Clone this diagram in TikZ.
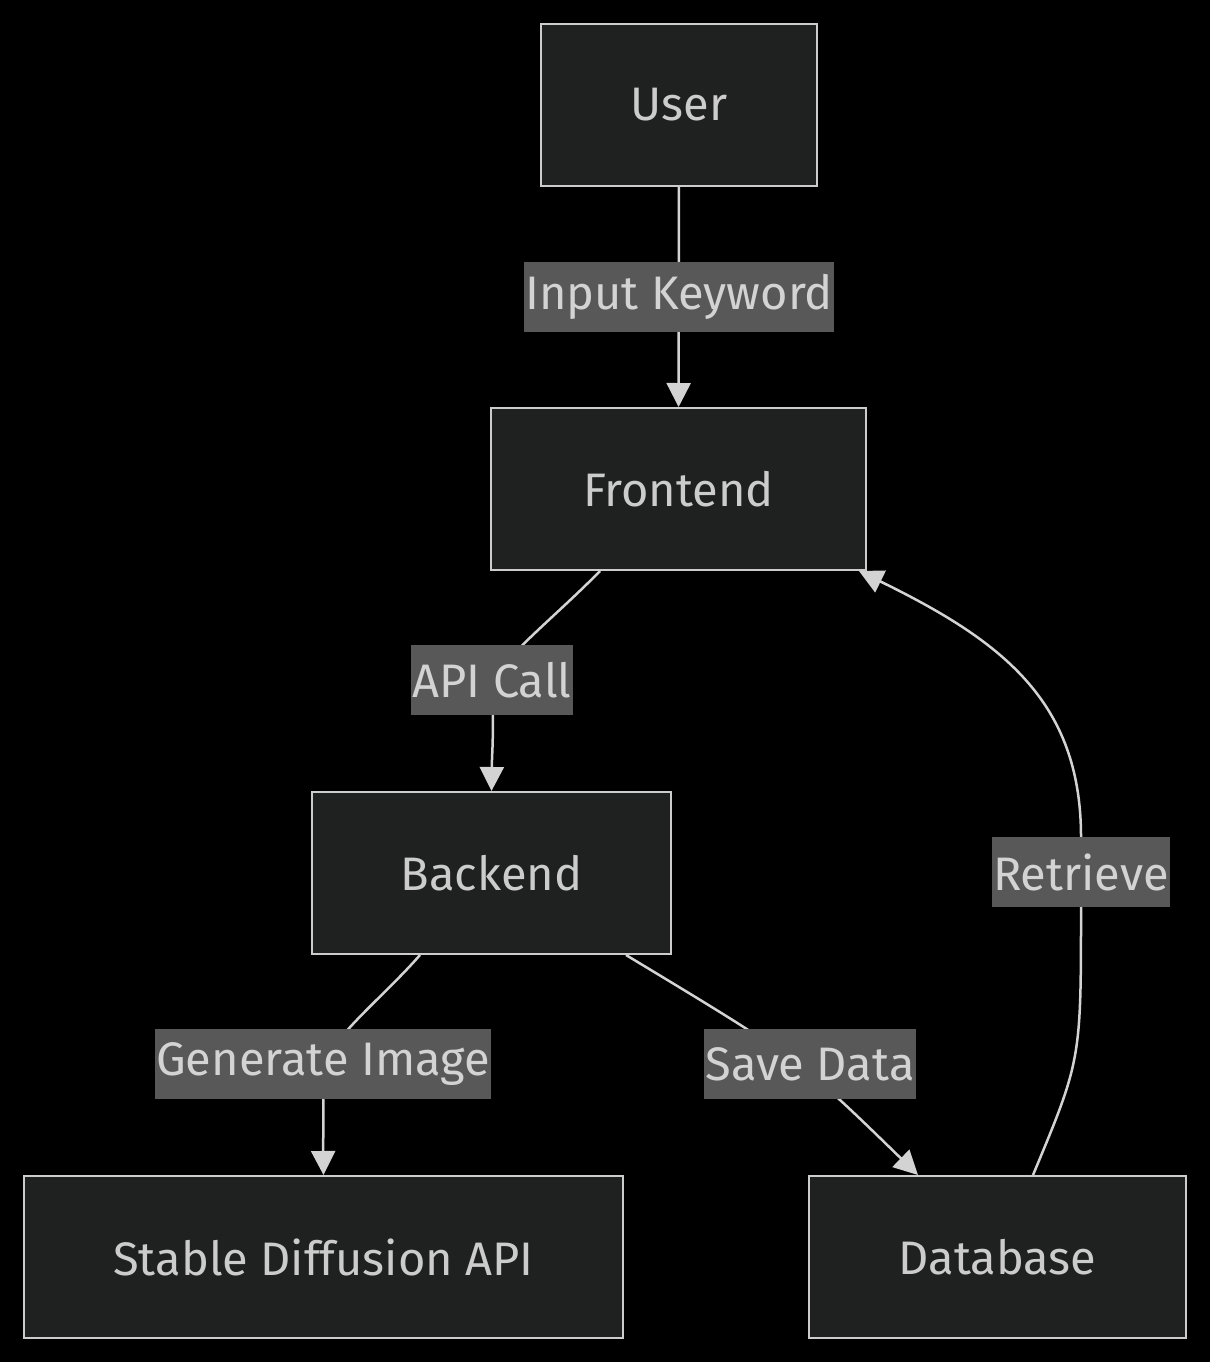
\documentclass[tikz,border=0pt]{standalone}
\usepackage{fontspec}
\setmainfont{Fira Sans}
\usetikzlibrary{arrows.meta,backgrounds}

\definecolor{nodefill}{HTML}{1F2020}
\definecolor{nodeline}{HTML}{CCCCCC}
\definecolor{lblfill}{HTML}{585858}
\definecolor{edgecol}{HTML}{D3D3D3}

\tikzset{
  box/.style={draw=nodeline, line width=2pt, fill=nodefill, text=nodeline,
    minimum height=162pt, inner sep=0pt},
  lbl/.style={fill=lblfill, text=edgecol, minimum height=70pt, inner xsep=1pt, inner ysep=0pt},
  edge/.style={draw=edgecol, line width=2.5pt, -{Triangle[length=24pt,width=24pt]}}
}

\begin{document}
\begin{tikzpicture}[x=1pt, y=-1pt, font=\fontsize{47}{55}\selectfont]

    \useasboundingbox (0, 0) rectangle (1210, 1362);

    \node[box, minimum width=276pt] (user) at (679, 105) {User};
    \node[box, minimum width=375pt] (fe) at (678.5, 489) {Frontend};
    \node[box, minimum width=359pt] (be) at (491.5, 873) {Backend};
    \node[box, minimum width=599pt] (sd) at (323.5, 1257) {Stable Diffusion API};
    \node[box, minimum width=377pt] (db) at (997.5, 1257) {Database};

    \node[lbl] (inkey) at (679, 297) {Input Keyword};
    \node[lbl] (apicall) at (492, 680) {API Call};
    \node[lbl] (genimg) at (323, 1064) {Generate Image};
    \node[lbl] (savedata) at (810, 1064) {Save Data};
    \node[lbl] (retr) at (1081, 872) {Retrieve};

    \begin{scope}[on background layer]
        \fill[black] (0, 0) rectangle (1210, 1362);

        \draw[edge] (user) -- (fe);
        \draw[edge] ([xshift=-78.5pt]fe.south) .. controls (560, 612) and (512, 650) .. (apicall.center)
            .. controls (494, 740) and (492, 750) .. (be.north);
        \draw[edge] ([xshift=-71.5pt]be.south) .. controls (385, 995) and (340, 1030) .. (genimg.center)
            .. controls (324, 1125) and (323, 1135) .. (sd.north);
        \draw[edge] ([xshift=134.5pt]be.south) .. controls (800, 1060) .. ([xshift=-79.5pt]db.north);
        \draw[edge] ([xshift=35.5pt]db.north) .. controls (1081, 1060) .. (retr.south) -- (retr.north)
            .. controls (1081, 700) and (1000, 640) .. ([xshift=-8pt]fe.south east);
    \end{scope}
  \end{tikzpicture}
\end{document}
